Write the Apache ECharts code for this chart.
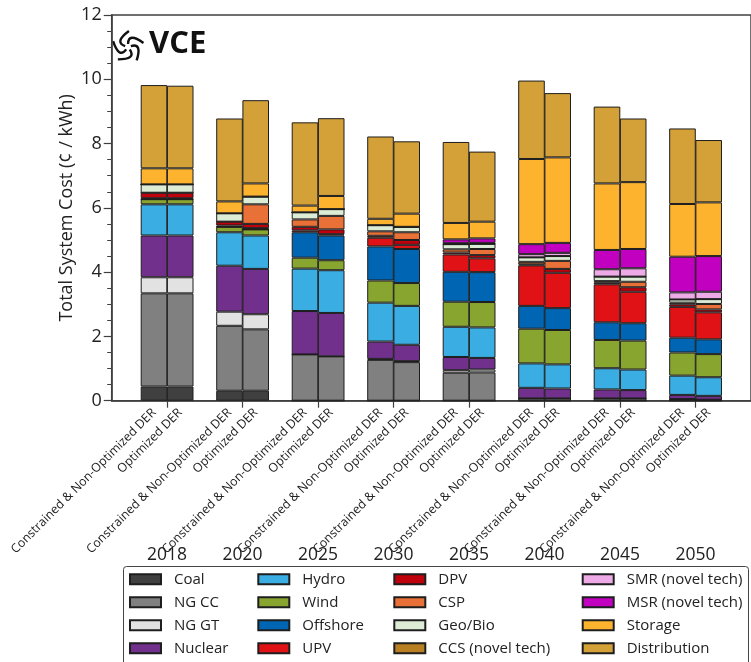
<!DOCTYPE html>
<html><head><meta charset="utf-8">
<script src="https://cdn.jsdelivr.net/npm/echarts@6/dist/echarts.min.js"></script>
<style>html,body{margin:0;padding:0;background:#fff}#c{width:751px;height:662px}</style>
</head><body><div id="c"></div>
<script>
// ---- data ----
const years = ['2018','2020','2025','2030','2035','2040','2045','2050'];
const scenarios = ['Constrained & Non-Optimized DER','Optimized DER'];
const yTicks = [0, 2, 4, 6, 8, 10, 12];
const techNames = ['Coal','NG CC','NG GT','Nuclear','Hydro','Wind','Offshore','UPV','DPV','CSP','Geo/Bio','CCS (novel tech)','SMR (novel tech)','MSR (novel tech)','Storage','Distribution'];
// each array: [2018 C, 2018 O, 2020 C, 2020 O, ... 2050 C, 2050 O]
const coal     = [0.44,0.44, 0.31,0.31, 0,0,       0,0,       0,0,       0,0,       0,0,       0,0];
const ngcc     = [2.90,2.90, 2.02,1.91, 1.44,1.38, 1.27,1.20, 0.87,0.88, 0.07,0.07, 0.07,0.07, 0.05,0.03];
const nggt     = [0.50,0.50, 0.44,0.47, 0,0,       0.03,0.03, 0.08,0.09, 0,0,       0,0,       0,0];
const nuclear  = [1.30,1.30, 1.43,1.41, 1.35,1.35, 0.54,0.51, 0.41,0.36, 0.33,0.31, 0.28,0.26, 0.13,0.12];
const hydro    = [0.97,0.97, 1.04,1.04, 1.32,1.33, 1.21,1.21, 0.94,0.95, 0.76,0.75, 0.66,0.64, 0.60,0.58];
const wind     = [0.16,0.16, 0.17,0.19, 0.34,0.31, 0.69,0.71, 0.78,0.79, 1.08,1.07, 0.88,0.90, 0.72,0.72];
const offshore = [0,0,       0,0,       0.79,0.77, 1.06,1.06, 0.93,0.93, 0.71,0.68, 0.55,0.54, 0.46,0.46];
const upv      = [0.03,0.03, 0.04,0.04, 0.06,0.04, 0.27,0.13, 0.54,0.43, 1.26,1.10, 1.18,0.98, 0.96,0.84];
const dpv      = [0.17,0.17, 0.12,0.13, 0.11,0.15, 0.06,0.15, 0.06,0.10, 0.03,0.12, 0.05,0.14, 0.08,0.09];
const csp      = [0,0,       0,0.61,    0.23,0.42, 0.14,0.24, 0.10,0.19, 0.08,0.25, 0.05,0.17, 0.05,0.17];
const geobio   = [0.26,0.26, 0.26,0.24, 0.22,0.21, 0.19,0.17, 0.16,0.16, 0.14,0.15, 0.14,0.16, 0.10,0.15];
const ccs      = [0,0,       0,0,       0,0,       0,0,       0,0,       0,0,       0,0,       0,0];
const smr      = [0,0,       0,0,       0,0,       0,0,       0.03,0.03, 0.10,0.10, 0.23,0.26, 0.22,0.23];
const msr      = [0,0,       0,0,       0,0,       0,0,       0.12,0.14, 0.31,0.31, 0.60,0.60, 1.11,1.11];
const storage  = [0.50,0.50, 0.37,0.41, 0.21,0.41, 0.20,0.41, 0.51,0.52, 2.65,2.66, 2.07,2.08, 1.64,1.67];
const distrib  = [2.59,2.57, 2.58,2.59, 2.59,2.42, 2.56,2.25, 2.52,2.18, 2.44,2.00, 2.39,1.98, 2.35,1.94];
const techValues = [coal,ngcc,nggt,nuclear,hydro,wind,offshore,upv,dpv,csp,geobio,ccs,smr,msr,storage,distrib];

// ---- styles ----
const techColors = ['#404040','#808080','#e2e2e2','#70308c','#3aade2','#88a530','#0066b3','#e01216','#bf000d','#e97036','#dcecd5','#b88022','#eeaae6','#c200bf','#fdb32e','#d4a038'];
const FONT = 'Open Sans';
const DARK = '#404040';
const half = 0.1735; // half bar offset in axis units

const chart = echarts.init(document.getElementById('c'), null, {renderer:'canvas'});

const barPos = [];
years.forEach((y,i)=>{ barPos.push(i-half); barPos.push(i+half); });

const series = techNames.map((name, t) => ({
  name, type:'bar', stack:'total', barWidth: 26.6,
  encode:{x:1, y:0},
  itemStyle:{color: techColors[t], borderColor:'#1e1e1e', borderWidth:1},
  emphasis:{disabled:true},
  data: techValues[t].map((v,j)=>[v, barPos[j]])
}));

const legendCols = [techNames.slice(0,4), techNames.slice(4,8), techNames.slice(8,12), techNames.slice(12,16)];
const colLefts = [129, 257.3, 393.3, 581.7];

// swirl logo arms
const swirl = [];
const cx = 128, cy = 47;
for (let k=0;k<5;k++){
  const th = k*2*Math.PI/5 - 0.3;
  swirl.push({type:'bezierCurve', shape:{
    x1: cx+3*Math.cos(th), y1: cy+3*Math.sin(th),
    cpx1: cx+15*Math.cos(th), cpy1: cy+15*Math.sin(th),
    x2: cx+16*Math.cos(th+1.3), y2: cy+16*Math.sin(th+1.3)},
    style:{stroke:'#111', lineWidth:2.4, fill:null}});
}

const option = {
  animation:false,
  backgroundColor:'#fff',
  textStyle:{fontFamily:FONT},
  grid:{left:111.7, top:15, width:649.3, height:385.7, show:true, borderColor:DARK, borderWidth:1.5, backgroundColor:'transparent'},
  xAxis:[{
    type:'value', min:-0.734, max:7.734, position:'bottom',
    axisLine:{show:true, onZero:false, lineStyle:{color:DARK, width:1.5}},
    axisTick:{show:true, customValues:years.map((y,i)=>i), length:7, lineStyle:{color:DARK, width:1.2}},
    axisLabel:{show:true, customValues:barPos, rotate:45, margin:10, fontSize:12.3, color:'#222', fontFamily:FONT,
      formatter:(v)=> (v - Math.round(v) < 0 ? scenarios[0] : scenarios[1])},
    splitLine:{show:false}
  },{
    type:'value', min:-0.734, max:7.734, position:'bottom', offset:140,
    axisLine:{show:false}, axisTick:{show:false}, splitLine:{show:false},
    axisLabel:{show:true, customValues:years.map((y,i)=>i), margin:5, fontSize:17.5, color:'#222', fontFamily:FONT,
      formatter:(v)=>years[Math.round(v)]}
  }],
  yAxis:{
    type:'value', min:yTicks[0], max:yTicks[yTicks.length-1], interval:2,
    axisLine:{show:true, onZero:false, lineStyle:{color:DARK, width:1.5}},
    axisTick:{show:true, length:8, lineStyle:{color:DARK, width:1.2}},
    minorTick:{show:true, splitNumber:4, length:4.5, lineStyle:{color:DARK, width:1}},
    axisLabel:{fontSize:18, margin:10, color:'#222', fontFamily:FONT},
    splitLine:{show:false},
    name:'Total System Cost (¢ / kWh)', nameLocation:'middle', nameGap:36, nameMoveOverlap:false,
    nameTextStyle:{fontSize:18, color:'#222', fontFamily:FONT}
  },
  legend: legendCols.map((names,c)=>({
    type:'plain', orient:'vertical', left:colLefts[c], top:571.8, height:120, padding:0,
    itemWidth:31, itemHeight:10, itemGap:8,
    icon:'rect', selectedMode:false, data:names,
    textStyle:{fontSize:15, lineHeight:15, color:'#222', fontFamily:FONT, padding:[0,0,0,8]}
  })),
  graphic:[
    {type:'rect', shape:{x:123.5, y:566.5, width:625, height:110, r:3}, style:{fill:'none', stroke:'#444', lineWidth:1}, z:0},
    ...swirl,
    {type:'text', left:149, top:29, style:{text:'VCE', font:'bold 31px "Open Sans"', fill:'#111'}}
  ],
  series
};
chart.setOption(option);
</script>
</body></html>
